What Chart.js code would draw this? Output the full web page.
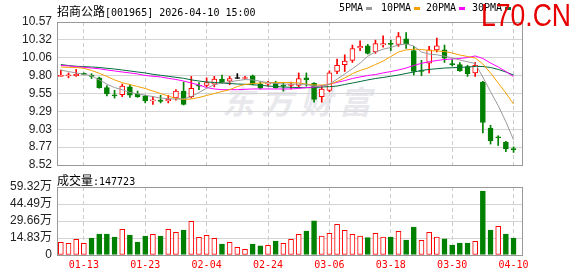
<!DOCTYPE html>
<html>
<head>
<meta charset="utf-8">
<script src="https://cdn.jsdelivr.net/npm/chart.js@4.4.1/dist/chart.umd.min.js"></script>
<style>
  body { margin: 0; background: #fff; width: 578px; height: 276px; overflow: hidden; position: relative; }
  canvas { position: absolute; left: 0; top: 0; }
  .t { position: absolute; white-space: nowrap; line-height: 12px; color: #000; }
  .cjk { font: 12px "Noto Sans CJK SC", sans-serif; }
  .mono { font: 10px "DejaVu Sans Mono", monospace; }
  .sw { display: inline-block; width: 6px; height: 3px; margin-left: 3px; vertical-align: 1px; }
  #wm { position: absolute; left: 222px; top: 77px; font: italic bold 32px "Noto Sans CJK SC", sans-serif;
        color: #e8e8ed; letter-spacing: 7px; white-space: nowrap; }
  #site { position: absolute; left: 481px; top: -1px; font: 32px "Liberation Sans", sans-serif;
          color: #e60000; line-height: 32px; white-space: nowrap; transform: scaleX(0.83); transform-origin: 0 0; }
</style>
</head>
<body>
<div id="wm">东方财富</div>
<canvas id="price" width="578" height="276"></canvas>
<canvas id="vol" width="578" height="276"></canvas>
<div class="t" style="left:57px;top:2px"><span class="cjk">招商公路</span><span class="mono">[001965] 2026-04-10 15:00</span></div>
<div class="t mono" style="left:339px;top:2px">5PMA<span class="sw" style="background:#999"></span></div>
<div class="t mono" style="left:381px;top:2px">10PMA<span class="sw" style="background:#f5a000"></span></div>
<div class="t mono" style="left:426px;top:2px">20PMA<span class="sw" style="background:#ff00ff"></span></div>
<div class="t mono" style="left:472px;top:2px">30PMA<span class="sw" style="background:#006b3c"></span></div>
<div id="site">L70.CN</div>
<div class="t" style="left:57px;top:171px"><span class="cjk">成交量</span><span class="mono">:147723</span></div>
<script>
const dates = ['01-08','01-09','01-12','01-13','01-14','01-15','01-16','01-19','01-20','01-21',
  '01-22','01-23','01-26','01-27','01-28','01-29','01-30','02-02','02-03','02-04',
  '02-05','02-06','02-09','02-10','02-11','02-12','02-13','02-24','02-25','02-26',
  '02-27','03-02','03-03','03-04','03-05','03-06','03-09','03-10','03-11','03-12',
  '03-13','03-16','03-17','03-18','03-19','03-20','03-23','03-24','03-25','03-26',
  '03-27','03-30','03-31','04-01','04-02','04-03','04-07','04-08','04-09','04-10'];

const open = [9.79,9.80,9.80,9.83,9.81,9.77,9.63,9.52,9.53,9.64,
  9.54,9.51,9.44,9.45,9.44,9.48,9.58,9.50,9.66,9.66,
  9.68,9.75,9.72,9.76,9.76,9.80,9.68,9.68,9.69,9.66,
  9.66,9.66,9.77,9.69,9.50,9.59,9.86,9.96,10.02,10.20,
  10.23,10.14,10.24,10.26,10.25,10.33,10.16,9.87,9.98,10.17,
  10.17,9.97,9.96,9.93,9.84,9.71,9.05,8.92,8.85,8.75];
const high = [9.88,9.84,9.89,9.84,9.83,9.78,9.66,9.59,9.68,9.67,
  9.58,9.52,9.50,9.52,9.52,9.60,9.71,9.79,9.70,9.77,
  9.79,9.81,9.79,9.83,9.79,9.81,9.71,9.72,9.72,9.70,
  9.71,9.84,9.84,9.70,9.66,9.87,10.04,10.10,10.24,10.30,
  10.25,10.31,10.37,10.31,10.42,10.42,10.22,10.02,10.22,10.34,
  10.24,10.03,9.99,9.95,9.99,9.72,9.09,8.94,8.86,8.78];
const low = [9.79,9.77,9.79,9.81,9.76,9.62,9.51,9.48,9.50,9.49,
  9.49,9.41,9.39,9.41,9.41,9.45,9.38,9.48,9.60,9.64,
  9.64,9.69,9.67,9.76,9.75,9.67,9.61,9.65,9.62,9.58,
  9.61,9.64,9.65,9.42,9.42,9.57,9.83,9.86,9.99,10.16,
  10.11,10.12,10.21,10.16,10.22,10.19,9.81,9.80,9.84,10.14,
  9.99,9.94,9.86,9.79,9.79,8.98,8.82,8.80,8.71,8.70];
const close = [9.80,9.81,9.82,9.82,9.79,9.63,9.54,9.51,9.65,9.52,
  9.50,9.44,9.45,9.43,9.46,9.58,9.39,9.62,9.65,9.70,
  9.75,9.70,9.76,9.76,9.77,9.68,9.62,9.69,9.63,9.65,
  9.68,9.76,9.74,9.46,9.61,9.84,9.95,10.01,10.19,10.22,
  10.12,10.26,10.26,10.25,10.36,10.26,9.86,9.86,10.17,10.23,
  10.05,9.96,9.87,9.83,9.95,9.13,8.87,8.91,8.75,8.74];

// 成交量, 万
const volume = [11.1,10.2,13.7,10.2,14.8,18.3,18.3,15.7,22.4,17.4,
  11.3,16.6,18.0,16.6,22.4,19.8,21.8,29.4,15.4,17.2,
  14.5,9.6,11.1,6.7,5.0,9.6,7.9,8.4,12.2,10.2,
  13.7,18.0,20.9,29.7,16.6,18.9,26.8,21.5,18.0,16.6,
  15.1,18.9,15.7,15.7,20.6,13.1,24.4,12.8,19.8,15.7,
  14.0,8.7,10.5,10.5,12.0,55.8,21.8,25.0,18.3,14.77];

const ma5 = [9.88,9.86,9.84,9.82,9.80,9.74,9.68,9.63,9.60,9.56,
  9.54,9.52,9.50,9.48,9.47,9.465,9.47,9.50,9.56,9.62,
  9.67,9.695,9.71,9.73,9.745,9.74,9.72,9.70,9.69,9.68,
  9.68,9.68,9.675,9.65,9.65,9.68,9.75,9.825,9.90,9.98,
  10.08,10.14,10.18,10.205,10.24,10.255,10.226,10.14,10.11,10.10,
  10.08,10.055,10.025,10.00,9.975,9.78,9.57,9.37,9.14,8.88];
const ma10 = [9.925,9.92,9.918,9.906,9.875,9.835,9.79,9.74,9.70,9.674,
  9.645,9.617,9.58,9.545,9.51,9.473,9.46,9.466,9.488,9.517,
  9.545,9.574,9.60,9.645,9.674,9.688,9.695,9.70,9.703,9.703,
  9.703,9.695,9.68,9.667,9.667,9.674,9.717,9.767,9.83,9.875,
  9.91,9.96,10.01,10.075,10.14,10.17,10.18,10.176,10.16,10.155,
  10.147,10.126,10.097,10.075,10.054,9.968,9.84,9.695,9.552,9.394];
const ma20 = [9.947,9.94,9.93,9.92,9.91,9.90,9.882,9.868,9.853,9.84,
  9.825,9.803,9.792,9.782,9.763,9.746,9.724,9.695,9.667,9.63,
  9.61,9.60,9.60,9.60,9.605,9.61,9.61,9.61,9.61,9.61,
  9.61,9.617,9.63,9.638,9.652,9.68,9.705,9.73,9.76,9.782,
  9.803,9.817,9.84,9.86,9.882,9.91,9.947,9.978,10.0,10.018,
  10.032,10.04,10.047,10.06,10.083,10.047,9.982,9.925,9.86,9.786];
const ma30 = [9.96,9.946,9.935,9.93,9.925,9.918,9.906,9.896,9.882,9.868,
  9.853,9.84,9.82,9.806,9.792,9.777,9.763,9.74,9.724,9.71,
  9.703,9.695,9.688,9.681,9.677,9.67,9.663,9.652,9.645,9.638,
  9.634,9.63,9.628,9.63,9.638,9.643,9.652,9.674,9.695,9.717,
  9.74,9.76,9.775,9.792,9.81,9.832,9.853,9.875,9.89,9.90,
  9.91,9.914,9.92,9.925,9.932,9.932,9.918,9.89,9.853,9.81];

const priceTicks = [8.52, 8.776, 9.033, 9.289, 9.545, 9.801, 10.058, 10.314, 10.57];
const priceTickLabels = ['8.52','8.77','9.03','9.29','9.55','9.80','10.06','10.32','10.57'];
const volTicks = [0, 14.83, 29.66, 44.49, 59.32];
const volTickLabels = ['0','14.83万','29.66万','44.49万','59.32万'];
const dateTicks = [3, 11, 19, 27, 35, 43, 51, 59];

const RED = '#ff0000', GREEN = '#008000', BLACK = '#000000';
const candleColor = i => close[i] > open[i] ? RED : (close[i] < open[i] ? GREEN : BLACK);
const volColor = i => close[i] >= (i ? close[i - 1] : open[i]) ? RED : GREEN;

// grey box round the plot area
const frame = {
  id: 'frame',
  afterDraw(chart) {
    const a = chart.chartArea, ctx = chart.ctx;
    const L = Math.round(a.left - 0.5) + 0.5, R = Math.round(a.right - 0.5) + 0.5;
    const T = Math.round(a.top - 0.5) + 0.5, B = Math.round(a.bottom - 0.5) + 0.5;
    ctx.save();
    ctx.strokeStyle = '#999';
    ctx.lineWidth = 1;
    ctx.strokeRect(L, T, R - L, B - T);
    ctx.restore();
  }
};

function xAxis(showLabels) {
  return {
    type: 'linear', min: -0.5, max: 60.1, offset: false,
    afterBuildTicks: s => { s.ticks = dateTicks.map(v => ({ value: v })); },
    afterFit: s => { s.height = showLabels ? 18 : 0; },
    grid: { color: '#cccccc', offset: false, drawTicks: false },
    border: { display: false, dash: [4, 3] },
    ticks: {
      display: showLabels, autoSkip: false, maxRotation: 0, padding: 4, color: RED,
      font: { family: 'DejaVu Sans Mono', size: 10 },
      callback: v => dates[v]
    }
  };
}

function yAxis(min, max, ticks, labels) {
  return {
    min: min, max: max,
    afterBuildTicks: s => { s.ticks = ticks.map(v => ({ value: v })); },
    afterFit: s => { s.width = 57; },
    grid: { color: '#d4d4d4', drawTicks: false },
    border: { display: false },
    ticks: {
      autoSkip: false, padding: 5, color: '#222',
      font: { family: "'Liberation Sans', 'Noto Sans CJK SC'", size: 12 },
      callback: (v, i) => labels[i]
    }
  };
}

const idx = dates.map((d, i) => i);
const maLine = (data, color) => ({
  type: 'line', order: 0,
  data: data.map((v, i) => ({ x: i, y: v })),
  borderColor: color, borderWidth: 1, pointRadius: 0, tension: 0, fill: false
});

new Chart(document.getElementById('price'), {
  type: 'bar',
  data: {
    datasets: [
      maLine(ma5, '#999999'),
      maLine(ma10, '#f5a000'),
      maLine(ma20, '#ff00ff'),
      maLine(ma30, '#006b3c'),
      {
        order: 1, grouped: false,
        data: idx.map(i => ({ x: i, y: [open[i], close[i]] })),
        backgroundColor: idx.map(i => candleColor(i) === RED ? '#ffffff' : candleColor(i)),
        borderColor: idx.map(candleColor),
        borderWidth: 1, borderSkipped: false, barThickness: 5, minBarLength: 1
      },
      {
        order: 2, grouped: false,
        data: idx.map(i => ({ x: i, y: [low[i], high[i]] })),
        backgroundColor: idx.map(candleColor),
        borderWidth: 0, barThickness: 1
      }
    ]
  },
  options: {
    responsive: false, animation: false, events: [],
    layout: { padding: { top: 22, right: 56, bottom: 111, left: 0 } },
    plugins: { legend: { display: false }, tooltip: { enabled: false } },
    scales: { x: xAxis(false), y: yAxis(8.52, 10.57, priceTicks, priceTickLabels) }
  },
  plugins: [frame]
});

new Chart(document.getElementById('vol'), {
  type: 'bar',
  data: {
    datasets: [{
      grouped: false,
      data: idx.map(i => ({ x: i, y: volume[i] })),
      backgroundColor: idx.map(i => volColor(i) === RED ? '#ffffff' : GREEN),
      borderColor: idx.map(volColor),
      borderWidth: 1, borderSkipped: false, barThickness: 5
    }]
  },
  options: {
    responsive: false, animation: false, events: [],
    layout: { padding: { top: 187, right: 56, bottom: 3, left: 0 } },
    plugins: { legend: { display: false }, tooltip: { enabled: false } },
    scales: { x: xAxis(true), y: yAxis(0, 59.32, volTicks, volTickLabels) }
  },
  plugins: [frame]
});
</script>
</body>
</html>
